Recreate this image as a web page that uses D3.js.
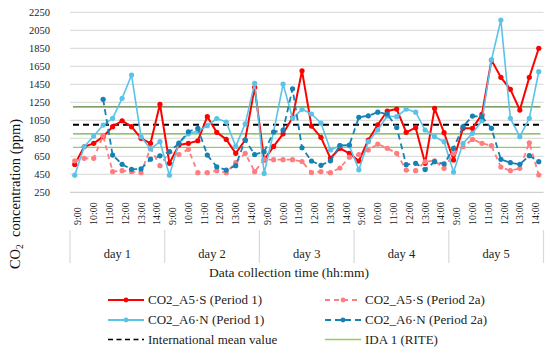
<!DOCTYPE html>
<html>
<head>
<meta charset="utf-8">
<script src="https://cdn.jsdelivr.net/npm/d3@7"></script>
<style>
  body { margin: 0; background: #fff; }
  svg text { font-family: "Liberation Serif", "DejaVu Serif", serif; }
</style>
</head>
<body>
<script>
// CO2 readings, 10 readings per day, 5 days
const days = ["day 1", "day 2", "day 3", "day 4", "day 5"];
const hours = ["9:00", "10:00", "11:00", "12:00", "13:00", "14:00"];
const perDay = 10;

const a5sPeriod1 = [
  560, 756, 794, 868, 979, 1045, 979, 850, 794, 1228,
  572, 775, 794, 823, 1090, 916, 838, 683, 831, 1416,
  610, 760, 900, 1080, 1600, 986, 861, 628, 739, 683,
  598, 831, 1000, 1153, 1175, 916, 968, 572, 1183, 912,
  609, 961, 961, 1116, 1719, 1527, 1394, 1164, 1527, 1850
];
const a6nPeriod1 = [
  440, 756, 875, 997, 1072, 1294, 1553, 868, 731, 812,
  440, 800, 900, 930, 990, 1070, 1030, 760, 1010, 1460,
  460, 920, 1453, 1072, 1172, 1120, 1020, 720, 768, 768,
  500, 812, 942, 1097, 1090, 1175, 1140, 942, 868, 812,
  475, 794, 905, 1045, 1719, 2164, 1072, 868, 1072, 1590
];
const a5sPeriod2a = [
  600, 627, 627, 880, 479, 490, 479, 468, 739, 545,
  700, 670, 727, 468, 468, 490, 468, 579, 683, 479,
  616, 612, 612, 612, 592, 470, 479, 468, 520, 640,
  670, 720, 786, 739, 683, 497, 490, 590, 600, 516,
  680, 756, 838, 794, 768, 530, 490, 516, 800, 442
];
const a6nPeriod2a = [
  null, null, null, 1283, 664, 561, 505, 510, 618, 655,
  701, 794, 923, 961, 664, 534, 497, 546, 831, 670,
  700, 920, 940, 1400, 745, 598, 550, 600, 770, 775,
  1083, 1100, 1140, 1120, 970, 557, 572, 503, 590, 566,
  739, 979, 1097, 1090, 961, 616, 579, 561, 657, 590
];
const intlMean = 1000;
const idaLevels = [1200, 900, 750];
const yTicks = [250, 450, 650, 850, 1050, 1250, 1450, 1650, 1850, 2050, 2250];

const series = [
  { name: "CO2_A5·S (Period 1)", values: a5sPeriod1, color: "#ff0000", dash: null, width: 2 },
  { name: "CO2_A5·S (Period 2a)", values: a5sPeriod2a, color: "#ff7c80", dash: "5,4", width: 1.8 },
  { name: "CO2_A6·N (Period 1)", values: a6nPeriod1, color: "#5bc3e8", dash: null, width: 1.6 },
  { name: "CO2_A6·N (Period 2a)", values: a6nPeriod2a, color: "#1681b4", dash: "6,4", width: 1.8 }
];

const width = 550, height = 352;
const plotLeft = 70, plotRight = 543.5, plotTop = 12.3, plotBottom = 192.3;
const serif = "'Liberation Serif', 'DejaVu Serif', serif";

const svg = d3.select("body").append("svg")
    .attr("width", width)
    .attr("height", height)
    .attr("font-family", serif);

const y = d3.scaleLinear().domain([250, 2250]).range([plotBottom, plotTop]);
const xDay = d3.scaleBand().domain(days).range([plotLeft, plotRight]);
const xSlot = d3.scaleBand().domain(d3.range(perDay)).range([0, xDay.bandwidth()]);
const xHour = d3.scaleBand().domain(hours).range([0, xDay.bandwidth()]);

const xAt = i => xDay(days[Math.floor(i / perDay)]) + xSlot(i % perDay) + xSlot.bandwidth() / 2;

// gridlines
svg.append("g").selectAll("line")
    .data(yTicks)
    .enter().append("line")
    .attr("x1", plotLeft).attr("x2", plotRight)
    .attr("y1", d => y(d)).attr("y2", d => y(d))
    .attr("stroke", d => d === 250 ? "#d0d0d0" : "#dedede")
    .attr("stroke-width", 1.2);

// y tick labels
svg.append("g").selectAll("text")
    .data(yTicks)
    .enter().append("text")
    .attr("x", 50)
    .attr("y", d => y(d) + 3.5)
    .attr("text-anchor", "end")
    .attr("font-family", serif)
    .style("font-size", "10.5px")
    .attr("fill", "#222")
    .text(d => d);

// y title
const yTitle = svg.append("text")
    .attr("transform", "translate(20,194) rotate(-90)")
    .attr("text-anchor", "middle")
    .attr("font-family", serif)
    .style("font-size", "14.5px")
    .attr("fill", "#111");
yTitle.append("tspan").text("CO");
yTitle.append("tspan").attr("dy", 3).style("font-size", "9.5px").text("2");
yTitle.append("tspan").attr("dy", -3).text("\u00a0 concentration (ppm)");

// reference lines
const idaColors = ["#548235", "#70ad47", "#92d050"];
svg.append("g").selectAll("line")
    .data(idaLevels)
    .enter().append("line")
    .attr("x1", plotLeft + 3).attr("x2", plotRight - 3)
    .attr("y1", d => y(d)).attr("y2", d => y(d))
    .attr("stroke", (d, i) => idaColors[i])
    .attr("stroke-width", 1.3);

svg.append("line")
    .attr("x1", plotLeft + 3).attr("x2", plotRight - 3)
    .attr("y1", y(intlMean)).attr("y2", y(intlMean))
    .attr("stroke", "#000")
    .attr("stroke-width", 2)
    .attr("stroke-dasharray", "6,4");

// series lines + markers
const line = d3.line()
    .defined(d => d != null)
    .x((d, i) => xAt(i))
    .y(d => y(d));

series.forEach(s => {
  svg.append("path")
      .datum(s.values)
      .attr("fill", "none")
      .attr("stroke", s.color)
      .attr("stroke-width", s.width)
      .attr("stroke-dasharray", s.dash)
      .attr("stroke-linejoin", "round")
      .attr("d", line);

  svg.append("g").selectAll("circle")
      .data(s.values.map((v, i) => ({ v, i })).filter(d => d.v != null))
      .enter().append("circle")
      .attr("cx", d => xAt(d.i))
      .attr("cy", d => y(d.v))
      .attr("r", 2.6)
      .attr("fill", s.color);
});

// x axis: hour labels
days.forEach(day => {
  svg.append("g").selectAll("text")
      .data(hours)
      .enter().append("text")
      .attr("transform", h => `translate(${xDay(day) + xHour(h) + xHour.bandwidth() / 2 + 3.5},225) rotate(-90)`)
      .attr("text-anchor", "start")
      .attr("font-family", serif)
      .style("font-size", "10px")
      .attr("fill", "#222")
      .text(h => h);
});

// day separators and labels
svg.append("g").selectAll("line")
    .data(days.concat(["end"]))
    .enter().append("line")
    .attr("x1", (d, i) => i < days.length ? xDay(d) : plotRight)
    .attr("x2", (d, i) => i < days.length ? xDay(d) : plotRight)
    .attr("y1", 230).attr("y2", 263)
    .attr("stroke", "#d9d9d9")
    .attr("stroke-width", 1.2);

svg.append("g").selectAll("text")
    .data(days)
    .enter().append("text")
    .attr("x", d => xDay(d) + xDay.bandwidth() / 2)
    .attr("y", 258)
    .attr("text-anchor", "middle")
    .attr("font-family", serif)
    .style("font-size", "12.5px")
    .attr("fill", "#222")
    .text(d => d);

svg.append("text")
    .attr("x", 289)
    .attr("y", 277)
    .attr("text-anchor", "middle")
    .attr("font-family", serif)
    .style("font-size", "13.5px")
    .attr("fill", "#222")
    .text("Data collection time (hh:mm)");

// legend
const legendItems = [
  { label: series[0].name, color: series[0].color, dash: null, marker: true, col: 0, row: 0 },
  { label: series[1].name, color: series[1].color, dash: "5,4", marker: true, col: 1, row: 0 },
  { label: series[2].name, color: series[2].color, dash: null, marker: true, col: 0, row: 1 },
  { label: series[3].name, color: series[3].color, dash: "6,4", marker: true, col: 1, row: 1 },
  { label: "International mean value", color: "#000", dash: "5,3.5", marker: false, col: 0, row: 2 },
  { label: "IDA 1 (RITE)", color: "#92d050", dash: null, marker: false, col: 1, row: 2 }
];
const colX = [108, 325], rowY = [300, 320, 339.5];

const legend = svg.append("g").selectAll("g")
    .data(legendItems)
    .enter().append("g")
    .attr("transform", d => `translate(${colX[d.col]},${rowY[d.row]})`);

legend.append("line")
    .attr("x1", 0).attr("x2", 36)
    .attr("stroke", d => d.color)
    .attr("stroke-width", d => d.marker ? 1.8 : 1.6)
    .attr("stroke-dasharray", d => d.dash);

legend.filter(d => d.marker).append("circle")
    .attr("cx", 18).attr("r", 2.4)
    .attr("fill", d => d.color);

legend.append("text")
    .attr("x", 40)
    .attr("y", 4.3)
    .attr("font-family", serif)
    .style("font-size", "13px")
    .attr("fill", "#222")
    .text(d => d.label);
</script>
</body>
</html>
